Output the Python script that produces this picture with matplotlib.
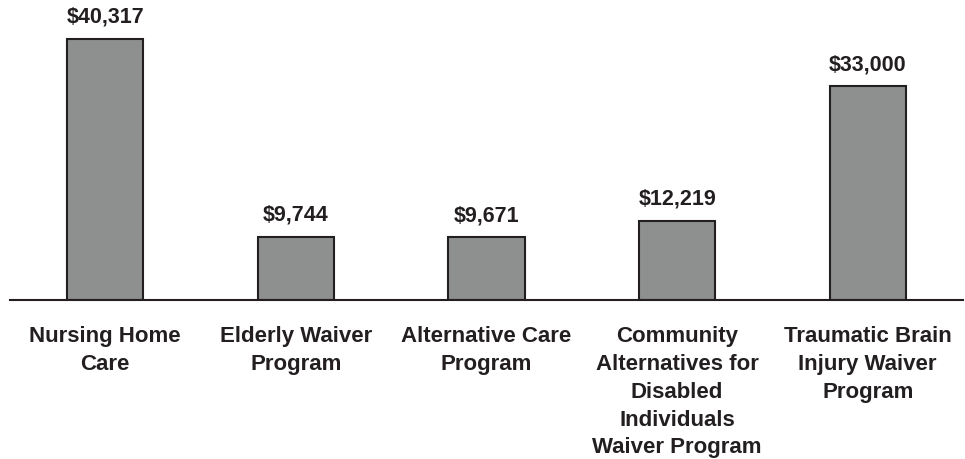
import matplotlib.pyplot as plt

categories = [
    "Nursing Home\nCare",
    "Elderly Waiver\nProgram",
    "Alternative Care\nProgram",
    "Community\nAlternatives for\nDisabled\nIndividuals\nWaiver Program",
    "Traumatic Brain\nInjury Waiver\nProgram",
]
costs = [40317, 9744, 9671, 12219, 33000]
value_labels = ["$40,317", "$9,744", "$9,671", "$12,219", "$33,000"]

plt.rcParams['font.family'] = ['Liberation Sans', 'DejaVu Sans']

ink = '#231f20'
fig = plt.figure(figsize=(9.65, 4.59), dpi=100)
ax = fig.add_axes([10 / 965, 159 / 459, 953 / 965, 300 / 459])

x = list(range(len(costs)))
bars = ax.bar(x, costs, width=0.40, color='#8e9090', edgecolor=ink, linewidth=1.5, zorder=2)

for rect, lab in zip(bars, value_labels):
    ax.annotate(lab, (rect.get_x() + rect.get_width() / 2, rect.get_height()),
                xytext=(0, 8), textcoords='offset points', ha='center', va='bottom',
                fontsize=15.5, fontweight='bold', color=ink)

ax.set_xlim(-0.5, 4.5)
ax.set_ylim(0, 46340)
ax.set_xticks(x)
ax.set_xticklabels(categories, fontsize=16, fontweight='bold', color=ink, linespacing=1.42)
ax.tick_params(axis='x', length=0, pad=19)
ax.set_yticks([])
for side in ['top', 'left', 'right']:
    ax.spines[side].set_visible(False)
ax.spines['bottom'].set_color(ink)
ax.spines['bottom'].set_linewidth(1.5)

fig.savefig('out.png', dpi=100)
